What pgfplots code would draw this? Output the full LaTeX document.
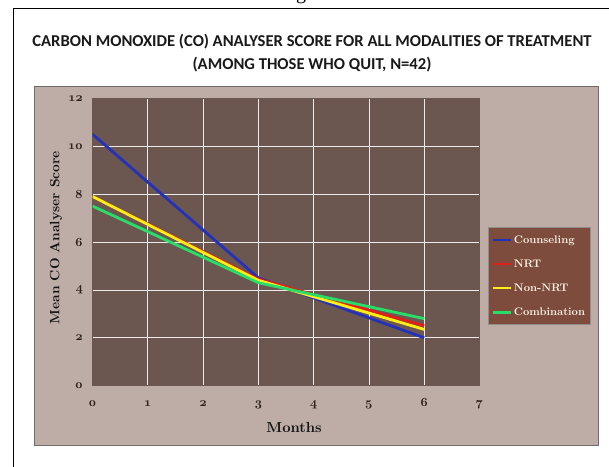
\documentclass[border=0pt]{standalone}
\usepackage{pgfplots}
\pgfplotsset{compat=1.18}
\usepackage{fontspec}
\setmainfont{lmroman10}[Extension=.otf, UprightFont=*-regular, BoldFont=*-bold, ItalicFont=*-italic, BoldItalicFont=*-bolditalic, Numbers=OldStyle]
\newfontfamily\titlefont{Carlito}
\newfontfamily\gfont{Liberation Serif}
\definecolor{chartbg}{RGB}{189,173,166}
\definecolor{plotbg}{RGB}{107,87,80}
\definecolor{legbg}{RGB}{126,76,60}
\definecolor{framegray}{RGB}{110,108,106}
\definecolor{cblue}{RGB}{35,50,185}
\definecolor{cred}{RGB}{225,30,25}
\definecolor{cyellow}{RGB}{255,238,20}
\definecolor{cgreen}{RGB}{40,222,105}
\definecolor{legtext}{RGB}{248,238,225}
\definecolor{ticktext}{RGB}{45,32,28}
\begin{document}
\begin{tikzpicture}
\useasboundingbox (0pt,0pt) rectangle (609pt,-466pt);
\begin{scope}
\clip (0pt,0pt) rectangle (609pt,-466pt);
\node[anchor=base, inner sep=0pt, font=\gfont\fontsize{20}{20}\selectfont] at (301pt,1pt) {g};
\end{scope}
\draw[black, line width=0.9pt] (13pt,-470pt) -- (13pt,-8pt) -- (612pt,-8pt);
\filldraw[fill=chartbg, draw=framegray, line width=0.8pt] (34pt,-86pt) rectangle (598pt,-445pt);
\node[font=\titlefont\bfseries\fontsize{16.6}{23}\selectfont, align=center, text=black!90] at (312pt,-53pt)
  {CARBON MONOXIDE (CO) ANALYSER SCORE FOR ALL MODALITIES OF TREATMENT\\(AMONG THOSE WHO QUIT, N=42)};
\begin{axis}[
  at={(92.5pt,-385.7pt)}, anchor=south west,
  scale only axis, width=387pt, height=287.4pt,
  xmin=0, xmax=7, ymin=0, ymax=12,
  xtick={0,1,2,3,4,5,6,7}, ytick={0,2,4,6,8,10,12},
  major tick length=0pt,
  grid=major,
  major grid style={draw=white!88!plotbg, line width=0.7pt},
  axis background/.style={fill=plotbg},
  axis line style={draw=plotbg, line width=1.4pt},
  /pgf/number format/assume math mode=true,
  ticklabel style={font=\bfseries\fontsize{12.5}{12.5}\selectfont, text=ticktext},
  xticklabel style={anchor=base, yshift=-21pt},
  yticklabel style={anchor=east, xshift=-6pt},
  xlabel={Months}, ylabel={Mean CO Analyser Score},
  label style={text=black!92},
  xlabel style={font=\bfseries\fontsize{14.5}{14.5}\selectfont, at={(axis description cs:0.521,-0.147)}, anchor=center},
  ylabel style={font=\bfseries\fontsize{13.5}{13.5}\selectfont, at={(axis description cs:-0.094,0.515)}, anchor=center, rotate=0},
  legend cell align=left,
  legend style={at={(1.022,0.552)}, anchor=north west, fill=legbg, draw=gray!70!chartbg,
    line width=0.8pt, font=\bfseries\fontsize{11}{11}\selectfont, text=legtext,
    row sep=11pt, inner xsep=3pt, inner ysep=6pt},
  legend image code/.code={\draw[#1, line width=2.5pt] (0pt,0pt) -- (18pt,0pt);},
]
\addplot[cblue, line width=2.8pt] coordinates {(0,10.5) (3,4.5) (6,2.0)};
\addlegendentry{Counseling}
\addplot[cred, line width=2.8pt] coordinates {(0,7.9) (3,4.45) (6,2.5)};
\addlegendentry{NRT}
\addplot[cyellow, line width=2.8pt] coordinates {(0,7.9) (3,4.4) (6,2.35)};
\addlegendentry{Non-NRT}
\addplot[cgreen, line width=2.8pt] coordinates {(0,7.5) (3,4.3) (6,2.8)};
\addlegendentry{Combination}
\end{axis}
\end{tikzpicture}
\end{document}
